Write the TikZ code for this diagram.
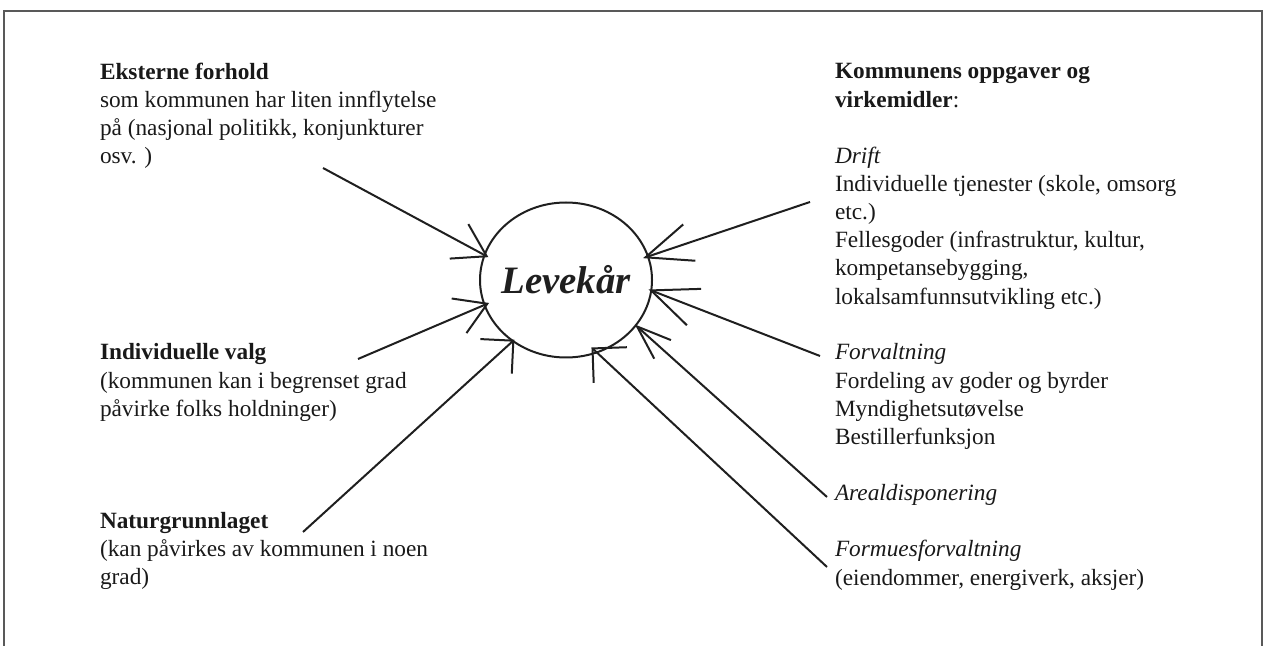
\documentclass[tikz,border=0pt]{standalone}
\usepackage{fontspec}
\setmainfont{Liberation Serif}
\usetikzlibrary{arrows.meta,shapes.geometric}
\begin{document}
\begin{tikzpicture}[x=0.5pt,y=-0.5pt,
  txt/.style={anchor=north west, inner sep=0pt, outer sep=0pt, align=left,
    text=black!90, font=\fontsize{11.65pt}{14.05pt}\selectfont},
  conn/.style={line width=1pt, draw=black!88},
  framestyle/.style={line width=0.9pt, draw=black!65},
]
\useasboundingbox (0,0) rectangle (1269,646);
\draw[framestyle] (4,646) -- (4,11) -- (1262,11) -- (1262,646);

% centre
\node[draw, ellipse, line width=1pt, draw=black!88, minimum width=86pt,
  minimum height=77.5pt, inner sep=0pt, outer sep=0pt,
  font=\fontsize{19.4pt}{22pt}\selectfont\bfseries\itshape, text=black!88]
  (lev) at (566,280) {\makebox[0pt]{Levekår}};

% left blocks
\node[txt] (ext) at (100,62.8) {\rule{0pt}{8.1pt}\textbf{Eksterne forhold}\\som kommunen har liten innflytelse\\på (nasjonal politikk, konjunkturer\\osv. )};
\node[txt] (ind) at (100,343.8) {\rule{0pt}{8.1pt}\textbf{Individuelle valg}\\(kommunen kan i begrenset grad\\påvirke folks holdninger)};
\node[txt] (nat) at (100,512.4) {\rule{0pt}{8.1pt}\textbf{Naturgrunnlaget}\\(kan påvirkes av kommunen i noen\\grad)};

% right blocks
\node[txt] (kom) at (835,62.8) {\rule{0pt}{8.1pt}\textbf{Kommunens oppgaver og}\\\textbf{virkemidler}:};
\node[txt] (dri) at (835,147.1) {\rule{0pt}{8.1pt}\textit{Drift}\\Individuelle tjenester (skole, omsorg\\etc.)\\Fellesgoder (infrastruktur, kultur,\\kompetansebygging,\\lokalsamfunnsutvikling etc.)};
\node[txt] (for) at (835,343.8) {\rule{0pt}{8.1pt}\textit{Forvaltning}\\Fordeling av goder og byrder\\Myndighetsutøvelse\\Bestillerfunksjon};
\node[txt] (are) at (835,484.3) {\rule{0pt}{8.1pt}\textit{Arealdisponering}};
\node[txt] (fmf) at (835,540.5) {\rule{0pt}{8.1pt}\textit{Formuesforvaltning}\\(eiendommer, energiverk, aksjer)};

% arrow start points
\coordinate (l1s) at (323,168);
\coordinate (l2s) at (358,359);
\coordinate (l3s) at (303,532);
\coordinate (r1s) at (810,202);
\coordinate (r2s) at (820,356);
\coordinate (r3s) at (827,497);
\coordinate (r4s) at (827,567);

\draw[conn, -{Straight Barb[length=15.7pt,width=19.6pt]}, shorten >=-2.15pt] (l1s) -- (lev.163.8);
\draw[conn, -{Straight Barb[length=15.35pt,width=18.8pt]}, shorten >=-2.45pt] (l2s) -- (lev.197.4);
\draw[conn, -{Straight Barb[length=11.65pt,width=23.35pt]}, shorten >=-0.95pt] (l3s) -- (lev.229.4);
\draw[conn, -{Straight Barb[length=23.1pt,width=19.15pt]}, shorten >=-2.6pt] (r1s) -- (lev.16.0);
\draw[conn, -{Straight Barb[length=23pt,width=19.5pt]}, shorten >=-1.35pt] (r2s) -- (lev.353.5);
\draw[conn, -{Straight Barb[length=17.15pt,width=12.5pt]}, shorten >=-0.6pt] (r3s) -- (lev.327);
\draw[conn, -{Straight Barb[length=12.2pt,width=24.4pt]}, shorten >=-3.6pt] (r4s) -- (lev.293.9);
\end{tikzpicture}
\end{document}
